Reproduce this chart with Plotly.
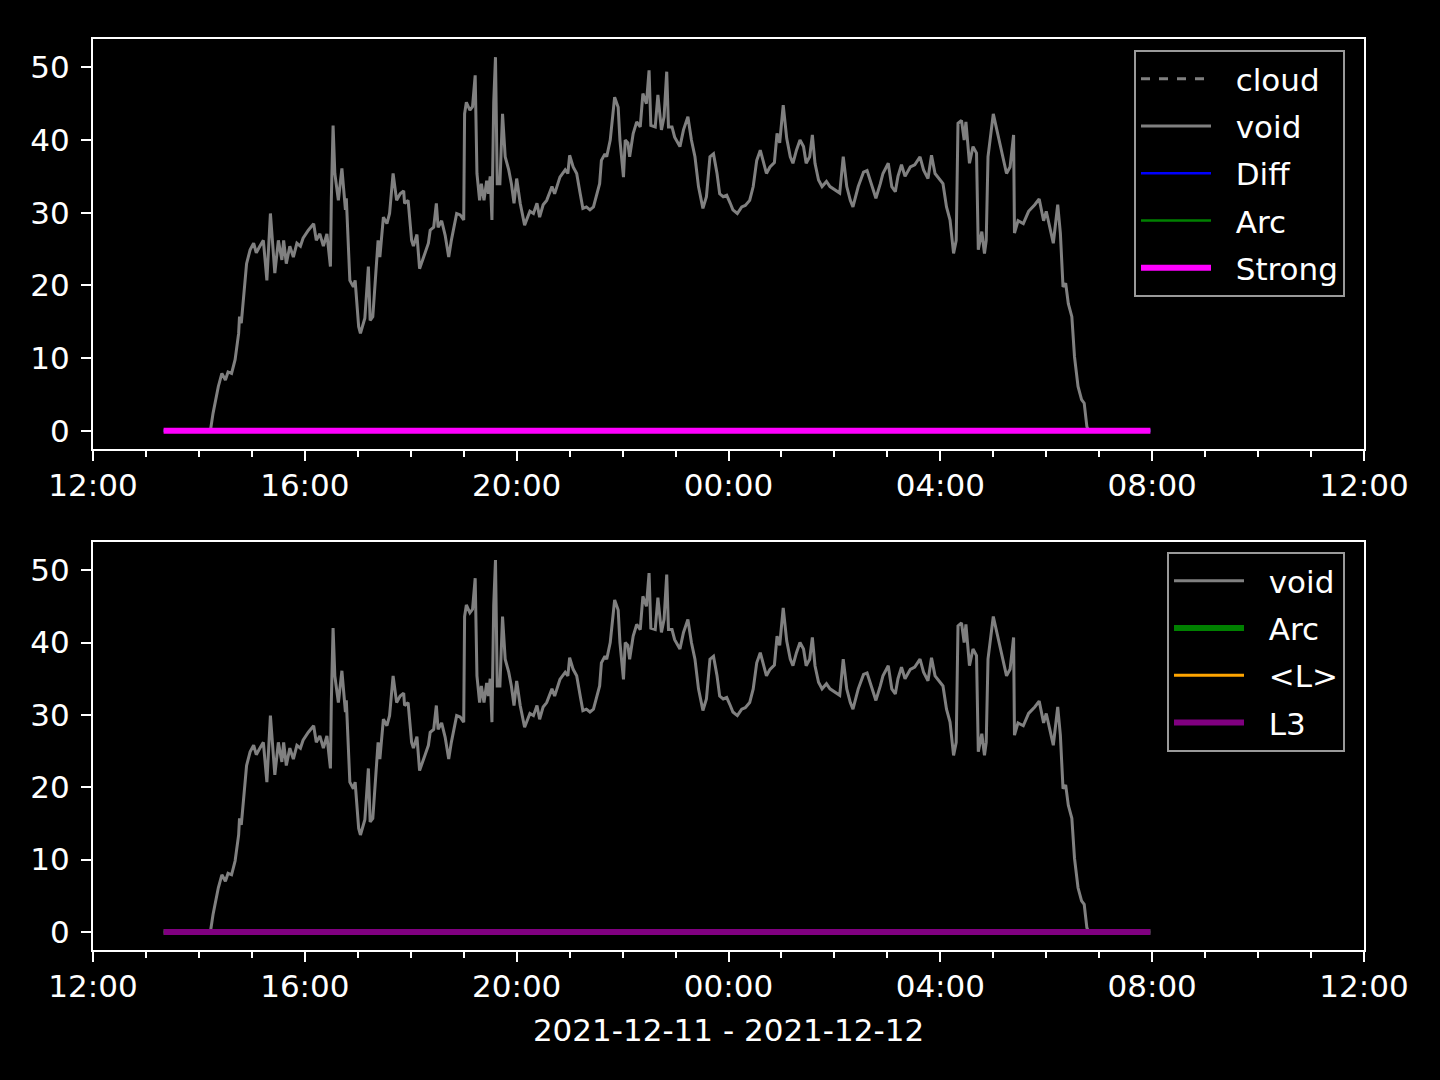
import pandas as pd
import plotly.graph_objects as go

START = pd.Timestamp("2021-12-11 12:00")

# minutes after 2021-12-11 12:00
void_minutes = [
    80, 133, 136, 142, 146, 150, 153, 157, 161, 165, 166, 168, 174, 178, 182, 185, 189, 193, 197, 201,
    206, 210, 214, 216, 219, 223, 227, 231, 235, 238, 244, 250, 253, 257, 261, 265, 269, 270, 272, 274,
    278, 282, 286, 287, 291, 295, 297, 301, 303, 308, 312, 314, 317, 320, 323, 325, 329, 333, 336, 340,
    344, 348, 352, 353, 357, 361, 363, 367, 370, 376, 380, 382, 386, 389, 391, 395, 399, 403, 406, 412,
    416, 420, 421, 423, 427, 430, 433, 435, 438, 440, 443, 446, 448, 450, 452, 454, 456, 458, 461, 464,
    467, 471, 474, 477, 480, 484, 486, 489, 495, 499, 503, 506, 510, 514, 520, 523, 529, 535, 538, 540,
    544, 548, 552, 555, 559, 563, 567, 571, 574, 576, 580, 582, 586, 591, 595, 597, 601, 603, 606, 608,
    612, 616, 620, 623, 627, 630, 632, 637, 640, 644, 647, 650, 652, 656, 659, 665, 669, 674, 678, 682,
    686, 691, 695, 699, 703, 707, 710, 714, 718, 722, 725, 730, 735, 739, 744, 748, 752, 756, 759, 763,
    767, 772, 775, 778, 782, 786, 790, 793, 797, 801, 805, 808, 812, 815, 818, 822, 826, 831, 835, 841,
    846, 850, 854, 858, 861, 867, 873, 877, 882, 887, 892, 895, 901, 905, 909, 912, 916, 920, 926, 931,
    937, 941, 946, 950, 954, 960, 963, 967, 971, 975, 978, 980, 984, 987, 989, 993, 997, 1001, 1003, 1007,
    1010, 1012, 1014, 1020, 1024, 1027, 1031, 1035, 1039, 1043, 1044, 1048, 1054, 1060, 1067, 1072, 1077, 1080, 1084, 1088,
    1093, 1096, 1099, 1102, 1105, 1109, 1112, 1116, 1120, 1123, 1126, 1128, 1198,
]
void_values = [
    0, 0, 2.4, 6.1, 7.9, 7.0, 8.1, 7.9, 9.8, 13.4, 15.7, 14.8, 23.0, 24.9, 25.8, 24.5, 25.4, 26.2, 20.7, 29.9,
    21.7, 26.2, 23.5, 26.2, 23.0, 25.4, 23.9, 25.8, 25.4, 26.5, 27.6, 28.5, 26.2, 27.1, 25.4, 27.1, 22.6, 31.7, 42.0, 35.4,
    31.7, 36.1, 30.4, 32.0, 20.7, 19.8, 20.7, 14.3, 13.4, 15.5, 22.6, 15.2, 15.7, 21.7, 26.2, 23.9, 29.4, 28.5, 29.9, 35.4,
    31.7, 32.6, 33.0, 31.3, 31.7, 26.2, 25.4, 27.0, 22.3, 24.4, 25.8, 27.6, 28.0, 31.3, 28.0, 28.9, 26.9, 23.9, 26.2, 29.9,
    29.7, 29.0, 43.6, 45.2, 44.1, 44.6, 48.9, 35.4, 31.7, 34.0, 31.7, 34.4, 32.6, 35.0, 29.0, 45.2, 51.4, 34.0, 34.0, 43.6,
    37.7, 35.9, 34.0, 31.3, 34.7, 31.3, 29.9, 28.3, 30.2, 29.9, 31.3, 29.4, 31.1, 31.7, 33.6, 32.6, 34.9, 35.9, 35.4, 37.9,
    36.3, 35.4, 32.6, 30.6, 30.8, 30.4, 30.8, 32.6, 34.0, 37.2, 38.1, 37.7, 40.0, 45.9, 44.5, 40.0, 34.9, 40.0, 39.6, 37.7,
    40.9, 42.5, 41.8, 46.4, 45.0, 49.6, 42.0, 41.8, 46.2, 41.4, 43.2, 49.4, 41.8, 41.8, 40.4, 39.1, 41.4, 43.2, 40.0, 37.7,
    33.6, 30.6, 32.2, 37.7, 38.1, 35.4, 32.6, 32.2, 32.4, 31.3, 30.4, 29.9, 30.8, 31.0, 31.7, 33.6, 37.2, 38.6, 37.2, 35.4,
    36.3, 36.9, 40.9, 39.6, 44.8, 40.2, 37.7, 36.8, 38.6, 40.0, 39.1, 36.8, 37.7, 40.7, 36.8, 34.5, 33.6, 34.3, 33.6, 33.1,
    32.7, 37.7, 33.6, 31.7, 30.8, 33.6, 35.6, 35.8, 34.0, 32.0, 34.0, 35.4, 36.8, 33.6, 32.9, 35.0, 36.6, 35.0, 36.3, 36.6,
    37.7, 35.9, 34.7, 37.9, 35.4, 34.5, 34.0, 30.8, 29.0, 24.4, 26.2, 42.3, 42.7, 40.0, 42.5, 36.8, 39.1, 38.2, 24.9, 27.4,
    24.4, 26.2, 37.7, 43.6, 41.4, 40.0, 37.7, 35.4, 36.3, 40.7, 27.2, 28.9, 28.5, 30.2, 31.1, 31.9, 28.9, 30.2, 28.0, 25.8,
    31.1, 27.2, 19.8, 20.3, 17.5, 15.7, 10.2, 6.1, 4.3, 3.8, 0.6, 0, 0,
]
assert len(void_minutes) == len(void_values)

zero_minutes = [80, 1198]
diff_values = [0, 0]
arc_values = [0, 0]
strong_values = [0, 0]
l3_values = [0, 0]

y_ticks = [0, 10, 20, 30, 40, 50]
x_title = "2021-12-11 - 2021-12-12"

void_t = [START + pd.Timedelta(minutes=m) for m in void_minutes]
zero_t = [START + pd.Timedelta(minutes=m) for m in zero_minutes]

FONT = "DejaVu Sans"
FS = 31
GRAY = "#808080"
PAD = "\u00a0\u00a0"

fig = go.Figure()

def add(x, y, name, color, width, xa, ya, leg, dash="solid"):
    fig.add_trace(go.Scatter(
        x=x, y=y, mode="lines", name=PAD + name,
        line=dict(color=color, width=width, dash=dash),
        xaxis=xa, yaxis=ya, legend=leg, legendgroup=leg + name,
    ))

# top panel
add([None], [None], "cloud", GRAY, 3, "x", "y", "legend", dash="dash")
add(void_t, void_values, "void", GRAY, 3, "x", "y", "legend")
add(zero_t, diff_values, "Diff", "#0000ff", 2.5, "x", "y", "legend")
add(zero_t, arc_values, "Arc", "#008000", 2.5, "x", "y", "legend")
add(zero_t, strong_values, "Strong", "#ff00ff", 6, "x", "y", "legend")

# bottom panel
add(void_t, void_values, "void", GRAY, 3, "x2", "y2", "legend2")
add(zero_t, arc_values, "Arc", "#008000", 6, "x2", "y2", "legend2")
add([None], [None], "<L>", "#ffa500", 3, "x2", "y2", "legend2")
add(zero_t, l3_values, "L3", "#800080", 6, "x2", "y2", "legend2")

x_range = [START, START + pd.Timedelta(hours=24)]

def xaxis(anchor, title=None):
    d = dict(
        type="date", range=x_range, domain=[93 / 1440, 1364 / 1440], anchor=anchor, automargin=False,
        showline=True, linecolor="white", linewidth=2, mirror=True, showgrid=False, zeroline=False,
        ticks="outside", ticklen=10, tickwidth=2, tickcolor="white", ticklabelstandoff=-2,
        tick0=START, dtick=4 * 3600 * 1000, tickformat="%H:%M",
        tickfont=dict(family=FONT, size=FS, color="white"),
        minor=dict(ticks="outside", ticklen=6, tickwidth=2, tickcolor="white",
                   dtick=3600 * 1000, tick0=START, showgrid=False),
    )
    if title:
        d["title"] = dict(text=title, font=dict(family=FONT, size=FS, color="white"), standoff=16)
    return d

def yaxis(domain, anchor):
    return dict(
        range=[-2.5, 53.9], domain=domain, anchor=anchor, automargin=False,
        showline=True, linecolor="white", linewidth=2, mirror=True, showgrid=False, zeroline=False,
        ticks="outside", ticklen=10, tickwidth=2, tickcolor="white", ticklabelstandoff=5,
        tickvals=y_ticks, tickfont=dict(family=FONT, size=FS, color="white"),
    )

legend_common = dict(
    bgcolor="black", bordercolor="#9a9a9a", borderwidth=2,
    font=dict(family=FONT, size=FS, color="white"),
    xanchor="right", yanchor="top", itemwidth=70, traceorder="grouped", tracegroupgap=4,
)

fig.update_layout(
    template="none",
    width=1440, height=1080,
    paper_bgcolor="black", plot_bgcolor="black",
    margin=dict(l=0, r=0, t=0, b=0, pad=0),
    showlegend=True,
    xaxis=xaxis("y"),
    yaxis=yaxis([1 - 449 / 1080, 1 - 39 / 1080], "x"),
    xaxis2=xaxis("y2", x_title),
    yaxis2=yaxis([1 - 950 / 1080, 1 - 542 / 1080], "x2"),
    legend=dict(x=1345 / 1440, y=1 - 50 / 1080, **legend_common),
    legend2=dict(x=1345 / 1440, y=1 - 552 / 1080, **legend_common),
)

fig.write_html(
    "out.html",
    config={"displayModeBar": False},
    post_script="document.body.style.margin='0';document.body.style.background='black';document.body.style.overflow='hidden';",
)
